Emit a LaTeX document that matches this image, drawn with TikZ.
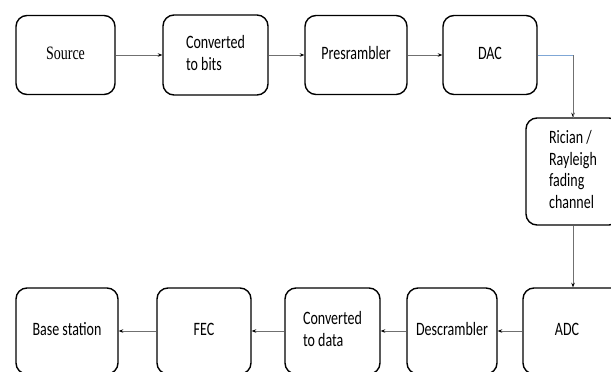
\documentclass[tikz,border=0pt]{standalone}
\usepackage{fontspec}
\setmainfont{Carlito}
\newfontfamily\timesf{Liberation Serif}
\usetikzlibrary{arrows.meta}
\definecolor{lgray}{HTML}{707070}
\definecolor{lblue}{HTML}{7FA7D6}
\newcommand\vtext[1]{\scalebox{1}[1.35]{\begin{tabular}{@{}l@{}}#1\end{tabular}}}
\tikzset{
  blk/.style={draw=black, line width=1.4pt, rounded corners=11pt, align=left,
    font=\fontsize{14}{16}\selectfont, inner sep=0pt},
  conn/.style={draw=lgray, line width=0.8pt, -{Stealth[length=4.5pt,width=3.5pt,color=black]}}
}
\begin{document}
\begin{tikzpicture}[x=1pt,y=-1pt]
\path[use as bounding box, clip] (0,0) rectangle (611,372);
\fill[white] (0,0) rectangle (611,372);
% top row
\node[blk, minimum width=99pt, minimum height=79pt] (src) at (65.5,55) {\vtext{\timesf Source}};
\node[blk, minimum width=105pt, minimum height=80pt] (cb) at (215.5,55) {\vtext{Converted\\to bits}};
\node[blk, minimum width=102pt, minimum height=79pt] (pre) at (356,55) {\vtext{Presrambler}};
\node[blk, minimum width=94pt, minimum height=79pt] (dac) at (490,55) {\vtext{DAC}};
% right column
\node[blk, minimum width=94pt, minimum height=107pt] (ric) at (573,171.5) {\vtext{Rician /\\Rayleigh\\fading\\channel}};
\node[blk, minimum width=100pt, minimum height=86pt] (adc) at (573,331) {\vtext{ADC}\hspace{12pt}};
% bottom row
\node[blk, minimum width=90pt, minimum height=86pt] (desc) at (452,331) {\vtext{Descrambler}};
\node[blk, minimum width=95pt, minimum height=86pt] (cd) at (332.5,331) {\vtext{Converted\\to data}};
\node[blk, minimum width=94pt, minimum height=86pt] (fec) at (204,331) {\vtext{FEC}};
\node[blk, minimum width=102pt, minimum height=86pt] (bs) at (67,331) {\vtext{Base station}};
% connectors
\draw[conn] (src) -- (cb);
\draw[conn] (cb.east |- src) -- (pre);
\draw[conn] (pre) -- (dac);
\draw[conn, draw=lblue] (dac.east) -| (ric.north);
\draw[draw=lgray, line width=0.8pt] (ric.north |- dac.east) -- ([yshift=-1pt]ric.north);
\draw[conn] (ric) -- (adc);
\draw[conn] (adc) -- (desc);
\draw[conn] (desc) -- (cd);
\draw[conn] (cd) -- (fec);
\draw[conn] (fec) -- (bs);
\end{tikzpicture}
\end{document}
